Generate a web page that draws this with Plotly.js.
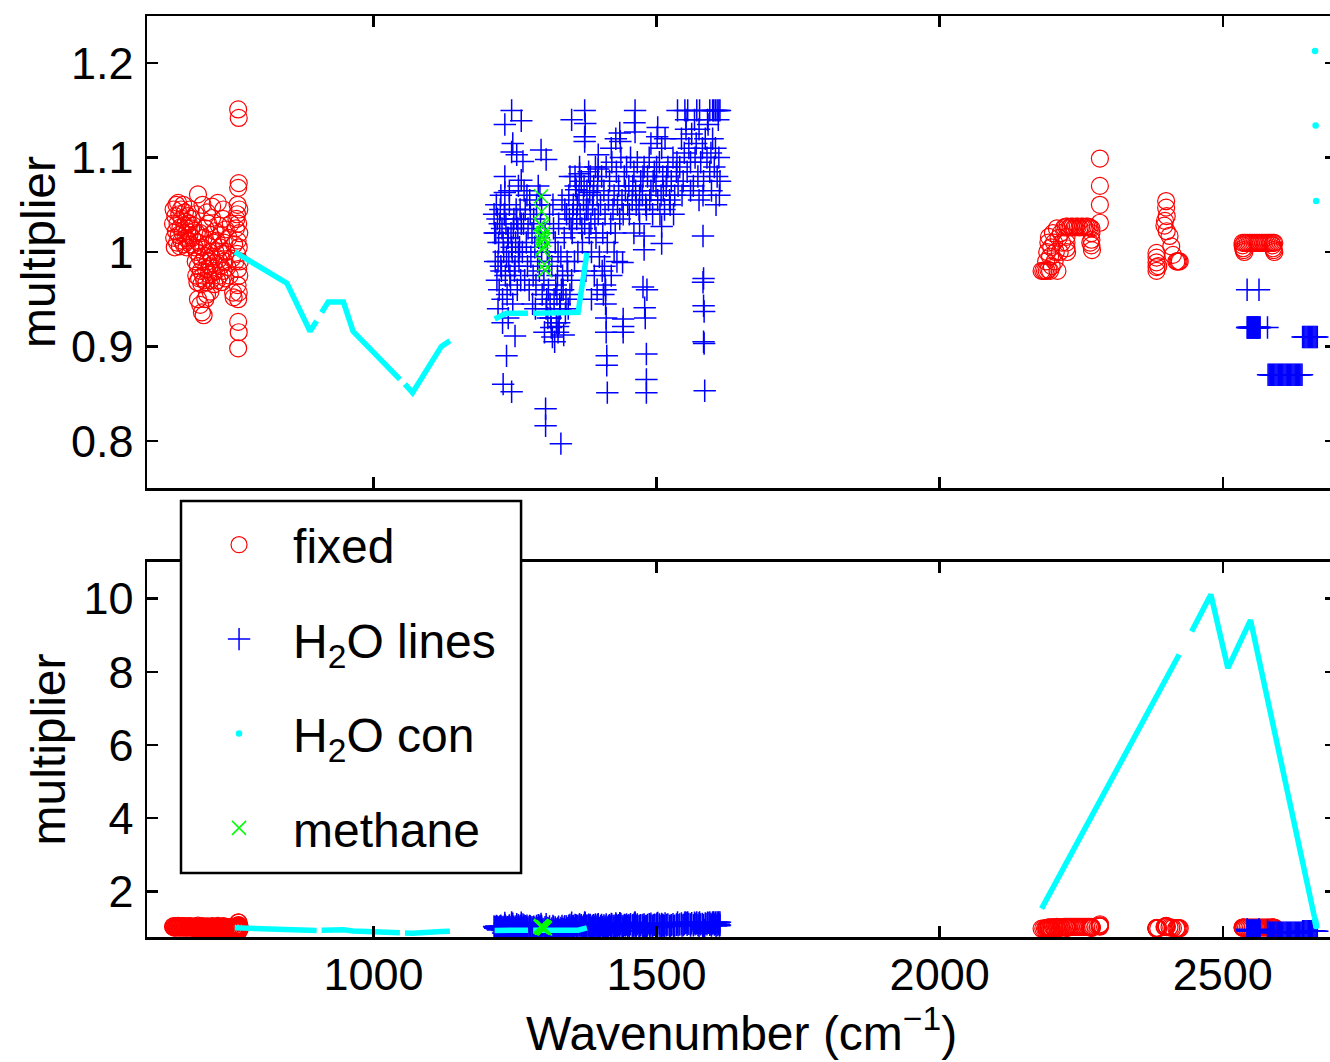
<!DOCTYPE html>
<html><head><meta charset="utf-8">
<script src="https://cdn.plot.ly/plotly-3.0.1.min.js"></script>
<style>html,body{margin:0;padding:0;overflow:hidden;background:#fff}#chart{width:1345px;height:1062px}</style>
</head><body><div id="chart"></div><script>
// ---------- "fixed" (red circles) ----------
const fixedX1 = [646,647,648,649,650,651,652,653,654,655,656,657,658,659,660,661,662,663,664,665,666,667,668,669,670,671,672,673,674,675,676,677,678,679,680,682,684,686,688,690];
const fixedY1 = [1.03,1.045,1.015,1.005,1.038,1.022,1.05,1.01,1.03,1.052,1.018,1.04,1.006,1.026,1.045,1.012,1.035,1.02,1.05,1.008,1.028,1.042,1.015,1.032,1.005,1.022,1.038,1.012,1.03,1.018,1.045,1.008,1.025,1.035,1.015,1.028,1.005,1.04,1.02,1.061];
const fixedX2 = [686,687,688,689,690,691,692,693,694,695,696,697,698,699,700,701,702,703,704,705,706,707,708,709,710,711,712,713,714,715,716,717,718,719,720,721,722,723,724,725,726,727,728,729,730,731,732,733,734,735,736,737,738,739,740,742,744,746,748,750,752,753,754];
const fixedY2 = [0.99,0.975,1.0,0.968,0.985,1.01,0.972,0.995,1.02,0.98,0.966,1.005,0.99,0.975,1.015,0.97,0.996,1.025,0.982,0.968,1.008,0.99,1.03,0.976,1.0,0.985,1.018,0.97,0.995,1.036,0.978,1.01,0.988,0.966,1.022,1.0,0.98,1.012,0.97,1.052,0.992,1.028,0.975,1.005,0.985,1.018,0.968,0.998,1.035,0.98,1.01,0.99,0.972,1.024,1.0,0.984,1.015,0.975,1.03,0.993,0.957,0.952,1.008];
const fixedX3 = [690,694,697,700,703,706,712,706,698,715,735, 761,762,762,761,760,763,759,761,763,760,762,759,764,761,763,760,762,761,761,762,761,758,757,756];
const fixedY3 = [0.95,0.944,0.936,0.933,0.95,0.955,0.958,1.042,1.05,1.048,1.045, 1.151,1.142,1.073,1.068,1.05,1.045,1.04,1.03,1.02,1.012,1.005,0.998,0.99,0.982,0.975,0.965,0.957,0.95,0.926,0.915,0.898,1.035,1.025,0.99];
const fixedX4 = [2180,2183,2186,2189,2192,2195,2188,2190,2192,2193,2195,2197,2198,2200,2202,2203,2205,2207,2208,2210,2212,2214,2216,
  2220,2223,2226,2229,2232,2235,2238,2241,2244,2247,2250,2253,2256,2259,2262,2265,2268,
  2224,2224,2224,2225,2268,2268,2268,2269,2266, 2283,2283,2283,2283];
const fixedY4 = [0.98,0.98,0.98,0.98,0.981,0.98,0.99,1.0,1.01,1.016,0.995,1.005,0.985,1.02,1.01,0.99,1.0,1.025,0.98,1.015,1.0,1.02,1.01,
  1.026,1.027,1.027,1.026,1.027,1.027,1.026,1.027,1.027,1.026,1.027,1.027,1.026,1.027,1.027,1.026,1.025,
  1.016,1.01,1.004,1.0,1.02,1.013,1.007,1.002,1.01, 1.099,1.07,1.05,1.031];
const fixedX5 = [2400,2400,2401,2398,2397,2401,2406,2409,2412,2383,2383,2383,2383,2383,2418,2420,2422,2424,2386,
  2535,2538,2541,2544,2547,2550,2553,2556,2559,2562,2565,2568,2571,2574,2577,2580,2583,2586,2589,2591,2535,2536,2537,2538,2588,2589,2590,2591];
const fixedY5 = [1.054,1.047,1.038,1.033,1.028,1.022,1.017,1.006,0.997,0.999,0.994,0.989,0.984,0.98,0.99,0.99,0.99,0.99,0.985,
  1.0096,1.0096,1.0096,1.0096,1.0096,1.0096,1.0096,1.0096,1.0096,1.0096,1.0096,1.0096,1.0096,1.0096,1.0096,1.0096,1.0096,1.0096,1.0096,1.0096,1.007,1.004,1.002,1.0,1.007,1.004,1.002,1.0];

// ---------- "H2O lines" (blue crosses) ----------
const h2oX1 = [1213,1215,1216,1218,1219,1221,1222,1224,1225,1227,1228,1230,1231,1233,1234,1236,1237,1239,1240,1242,1243,1245,1246,1248,1249,1251,1252,1254,1255,1257,1258,1260,1261,
  1214,1217,1220,1223,1226,1229,1232,1235,1238,1241,1244,1247,1250,1253,1256,1259,
  1244,1232,1261,1246,1244,1253,1264,1232,1261,1232,1228,1250,1235,1229,1244,1238,1220,1240,1225,1256];
const h2oY1 = [1.04,0.99,1.02,0.97,1.035,1.01,0.96,1.045,0.985,1.025,0.95,1.0,1.04,0.975,1.03,0.955,1.015,0.99,1.05,0.965,1.02,1.0,0.945,1.035,0.98,1.01,1.045,0.96,1.025,0.99,1.005,0.97,1.03,
  1.02,1.05,0.99,1.03,0.98,1.01,1.04,0.995,1.015,0.975,1.005,1.025,0.985,1.035,1.0,1.045,
  1.15,1.135,1.139,1.115,1.106,1.103,1.096,1.08,1.076,1.063,0.925,0.911,0.89,0.86,0.852,0.93,0.94,1.065,1.06,1.07];
const h2oX2 = [1263,1265,1267,1268,1270,1272,1273,1275,1277,1278,1280,1282,1283,1285,1287,1288,1290,1292,1293,1295,1297,1298,
  1266,1271,1276,1281,1286,1291,1296,1297,1294,1305];
const h2oY2 = [1.0,1.03,0.97,1.045,1.01,0.985,1.025,0.96,1.04,0.995,1.02,0.975,1.035,1.005,0.965,1.05,0.99,1.015,0.98,1.03,1.0,0.955,
  1.065,1.06,1.055,0.945,0.94,1.07,1.108,1.05,1.06,1.098];
const h2oX3 = [1301,1303,1305,1307,1309,1311,1313,1315,1317,1319,1321,1323,1325,1327,1329,1331,1333,1335,1337,1339,1341,1343,1345,1347,1349,
  1302,1306,1310,1314,1318,1322,1326,1330,1334,1338,1342,1346,1350,
  1304,1304,1331,1326,1326,1316,1320,1336, 1308,1312,1324,1328,1332,1340,1344];
const h2oY3 = [0.97,1.02,0.94,1.0,0.96,1.04,0.93,0.985,1.05,0.95,1.01,0.925,0.975,1.03,0.945,0.995,1.055,0.96,1.015,0.935,1.04,0.98,1.06,0.955,1.025,
  0.915,0.95,0.99,0.92,1.025,0.965,1.0,0.94,0.975,1.045,0.99,1.035,0.97,
  0.834,0.816,0.797,0.921,0.915,0.91,0.905,0.912, 0.93,0.945,0.955,0.925,0.96,0.95,0.94];
const h2oX4 = [1351,1353,1355,1357,1359,1361,1363,1365,1367,1369,1371,1373,1375,1377,1379,1381,1383,1385,1387,1389,1391,1393,1395,1397,1399,
  1352,1356,1360,1364,1368,1372,1376,1380,1384,1388,1392,1396,
  1373,1350,1374,1373,1373,1397,1397,1364,1347,1358,1382,1395,1390,1385];
const h2oY4 = [1.02,1.05,0.99,1.07,1.035,1.0,1.06,1.04,1.075,1.01,1.055,1.03,0.98,1.065,1.045,1.02,1.08,1.0,1.05,1.07,1.035,1.015,1.06,1.04,0.995,
  1.04,1.08,1.05,1.09,1.025,1.07,1.045,1.085,1.03,1.06,1.09,1.075,
  1.15,1.14,1.136,1.122,1.117,1.103,1.088,1.083,1.08,1.066,1.063,0.96,0.975,0.95];
const h2oX5 = [1401,1403,1405,1407,1409,1411,1413,1415,1417,1419,1421,1423,1425,1427,1429,1431,1433,1435,1437,1439,1441,1443,1445,1447,1449,
  1408,1409,1410,1410,1411,1411,1412,1412,1413,1441,1441,1441,1440,1404,1406,1420,1425,1430,
  1435,1436,1420,1428];
const h2oY5 = [1.05,1.08,1.02,1.065,1.04,1.09,1.01,1.055,1.075,1.03,1.095,1.045,1.06,1.02,1.085,1.05,1.07,1.035,1.1,1.055,1.04,1.08,1.065,1.09,1.05,
  0.985,0.965,0.96,0.945,0.93,0.915,0.89,0.88,0.851,0.929,0.921,0.915,0.989,0.98,0.955,0.975,1.0,0.99,
  1.126,1.117,1.11,1.12];
const h2oX6 = [1451,1454,1457,1460,1463,1466,1469,1472,1475,1478,1481,1484,1487,1490,1493,1496,1499,1502,1505,1508,1511,1514,1517,1520,1523,1526,1529,1532,1535,1538,
  1452,1458,1464,1470,1476,1482,1488,1494,1500,1506,1512,1518,1524,1530,1536,
  1462,1461,1462,1502,1501,1509,1515,1490,
  1476,1483,1478,1478,1479,1480,1482,1482,1482,1509,1509,1460,1470];
const h2oY6 = [1.07,1.1,1.055,1.085,1.065,1.095,1.045,1.075,1.06,1.09,1.05,1.08,1.1,1.065,1.04,1.085,1.07,1.055,1.095,1.06,1.08,1.045,1.07,1.09,1.055,1.075,1.1,1.06,1.085,1.07,
  1.04,1.07,1.05,1.06,1.08,1.045,1.055,1.075,1.09,1.04,1.065,1.08,1.05,1.04,1.095,
  1.15,1.137,1.127,1.132,1.122,1.11,1.12,1.115,
  0.963,0.96,1.0025,1.017,0.941,0.93,0.892,0.865,0.851,1.027,1.009,1.02,1.03];
const h2oX7 = [1541,1544,1547,1549,1552,1554,1557,1560,1562,1565,1568,1570,1573,1575,1578,1581,1583,1586,1589,1591,1594,1596,1599,1602,1604,1607,1610,1612,
  1537,1550,1555,1571,1576,1594,1599,1601,1604,1607,1610,1612,
  1545,1552,1560,1567,1575,1582,1590,1597,1605,1609,1611,
  1582,1583,1582,1583,1584,1583,1584,1585];
const h2oY7 = [1.09,1.12,1.075,1.105,1.13,1.085,1.11,1.095,1.125,1.07,1.1,1.115,1.08,1.13,1.095,1.11,1.075,1.12,1.1,1.135,1.085,1.105,1.12,1.09,1.11,1.08,1.1,1.075,
  1.15,1.15,1.15,1.15,1.15,1.15,1.15,1.15,1.15,1.15,1.15,1.15,
  1.06,1.14,1.065,1.14,1.055,1.06,1.14,1.065,1.05,1.14,1.06,
  1.017,0.972,0.968,0.943,0.937,0.905,0.903,0.853];
const h2oX8 = [2543,2564,
  2543,2544,2545,2546,2547,2548,2549,2550,2551,2552,2553,2554,2555,2556,2557,2558,2559,2560,2561,2562,2563,2564,2565,2566,2579,
  2580,2582,2584,2586,2588,2590,2592,2594,2596,2598,2600,2602,2604,2606,2608,2610,2612,2614,2616,2618,2620,2622,2624,2626,2628,2630,2632,2634,2636,2638,2640,
  2641,2643,2645,2647,2649,2651,2653,2655,2657,2659,2661,2663,2665,2667];
const h2oY8 = [0.96,0.96,
  0.92,0.92,0.92,0.92,0.92,0.92,0.92,0.92,0.92,0.92,0.92,0.92,0.92,0.92,0.92,0.92,0.92,0.92,0.92,0.92,0.92,0.92,0.92,0.92,0.92,
  0.87,0.87,0.87,0.87,0.87,0.87,0.87,0.87,0.87,0.87,0.87,0.87,0.87,0.87,0.87,0.87,0.87,0.87,0.87,0.87,0.87,0.87,0.87,0.87,0.87,0.87,0.87,0.87,0.87,0.87,0.87,
  0.91,0.91,0.91,0.91,0.91,0.91,0.91,0.91,0.91,0.91,0.91,0.91,0.91,0.91];

// ---------- "H2O con" (cyan): dense dotted curve (drawn as a thick line) + last isolated dots ----------
const conX = [755,847,888,899.6,null,908.4,920,947,964,1046.7,null,1055.5,1069,1120,1135,null,
  1214,1235,1273,null,1282,1361.5,1377,null,2180,2423,null,2445,2479,2509,2549,2662];
const conY = [1.0,0.967,0.916,0.927,null,0.936,0.947,0.947,0.916,0.865,null,0.86,0.851,0.9,0.906,null,
  0.929,0.935,0.935,null,0.935,0.936,0.999,null,1.526,8.47,null,9.10,10.11,8.10,9.41,1.29];
const conEndX = [2663,2664,2665];
const conEndY = [1.213,1.134,1.054];

// ---------- "methane" (green x) ----------
const methX = [1296,1297,1295,1298,1300,1299,1301,1297,1300,1298,1302,1303];
const methY = [1.059,1.043,1.029,1.027,1.02,1.016,1.013,1.011,1.005,1.0025,0.987,0.981];

// ---------- axes ----------
const xTicks = [1000,1500,2000,2500];
const yTopTicks = [0.8,0.9,1,1.1,1.2];
const yTopLabels = ['0.8','0.9','1','1.1','1.2'];
const yBotTicks = [2,4,6,8,10];
const yBotLabels = ['2','4','6','8','10'];

const fixedX = [].concat(fixedX1,fixedX2,fixedX3,fixedX4,fixedX5);
const fixedY = [].concat(fixedY1,fixedY2,fixedY3,fixedY4,fixedY5);
const h2oX = [].concat(h2oX1,h2oX2,h2oX3,h2oX4,h2oX5,h2oX6,h2oX7,h2oX8);
const h2oY = [].concat(h2oY1,h2oY2,h2oY3,h2oY4,h2oY5,h2oY6,h2oY7,h2oY8);

const RED='#ff0000', BLUE='#0000ff', CYAN='#00ffff', GREEN='#00ff00';
const FONT = 'Liberation Sans, Arial, Helvetica, sans-serif';
const TICK_SIZE = 45, LABEL_SIZE = 48;

function series(xa, ya, top){
  return [
    {type:'scatter', mode:'markers', x:fixedX, y:fixedY, xaxis:xa, yaxis:ya, name:'fixed', legendgroup:'a', showlegend:top,
     marker:{symbol:'circle-open', size:17, color:RED, line:{color:RED, width:1.2}}},
    {type:'scatter', mode:'markers', x:h2oX, y:h2oY, xaxis:xa, yaxis:ya, name:'H<sub>2</sub>O lines', legendgroup:'b', showlegend:top,
     marker:{symbol:'cross-thin-open', size:16, color:BLUE, line:{color:BLUE, width:1.5}}},
    {type:'scatter', mode:'lines', x:conX, y:conY, xaxis:xa, yaxis:ya, name:'H<sub>2</sub>O con', legendgroup:'c', showlegend:false,
     connectgaps:false, line:{color:CYAN, width:5.5}},
    {type:'scatter', mode:'markers', x:conEndX, y:conEndY, xaxis:xa, yaxis:ya, name:'H<sub>2</sub>O con', legendgroup:'c', showlegend:top,
     marker:{symbol:'circle', size:6.5, color:CYAN}},
    {type:'scatter', mode:'markers', x:methX, y:methY, xaxis:xa, yaxis:ya, name:'methane', legendgroup:'d', showlegend:top,
     marker:{symbol:'x-thin-open', size:14, color:GREEN, line:{color:GREEN, width:1.5}}}
  ];
}
const data = series('x2','y2',true).concat(series('x','y',false));

const axBase = {showline:true, linecolor:'#000', linewidth:2.5, mirror:'ticks', ticks:'inside', ticklen:11, tickwidth:2.5, tickcolor:'#000',
  showgrid:false, zeroline:false, tickfont:{family:FONT, size:TICK_SIZE, color:'#000'}};
const titleFont = {family:FONT, size:LABEL_SIZE, color:'#000'};

const layout = {
  width:1345, height:1062,
  margin:{l:147, r:9, t:16, b:125},
  paper_bgcolor:'#fff', plot_bgcolor:'#fff',
  font:{family:FONT, size:LABEL_SIZE, color:'#000'},
  showlegend:true,
  xaxis: Object.assign({}, axBase, {domain:[0,1], anchor:'y', range:[600,2700], tickvals:xTicks, ticklabelstandoff:-4,
    title:{text:'Wavenumber (cm<sup>−1</sup>)', font:titleFont, standoff:18}}),
  yaxis: Object.assign({}, axBase, {domain:[0,0.40717], anchor:'x', range:[0.75,11], tickvals:yBotTicks, ticktext:yBotLabels, ticklabelstandoff:2,
    title:{text:'multiplier', font:titleFont, standoff:3}}),
  xaxis2: Object.assign({}, axBase, {domain:[0,1], anchor:'y2', range:[600,2700], tickvals:xTicks, showticklabels:false, matches:'x'}),
  yaxis2: Object.assign({}, axBase, {domain:[0.48751,1], anchor:'x2', range:[0.75,1.25], tickvals:yTopTicks, ticktext:yTopLabels, ticklabelstandoff:2,
    title:{text:'multiplier', font:titleFont, standoff:0}}),
  legend:{x:0.0320, y:0.4669, xanchor:'left', yanchor:'top', bgcolor:'rgba(0,0,0,0)', borderwidth:0,
    font:{family:FONT, size:LABEL_SIZE, color:'#000'}, itemwidth:98, traceorder:'grouped', tracegroupgap:29, itemclick:false, itemdoubleclick:false},
  shapes:[{type:'rect', xref:'paper', yref:'paper', x0:0.0286, x1:0.3146, y0:0.0695, y1:0.4734, layer:'above',
    fillcolor:'#fff', line:{color:'#000', width:2.5}}]
};

Plotly.newPlot('chart', data, layout, {displayModeBar:false, staticPlot:true});
</script></body></html>
